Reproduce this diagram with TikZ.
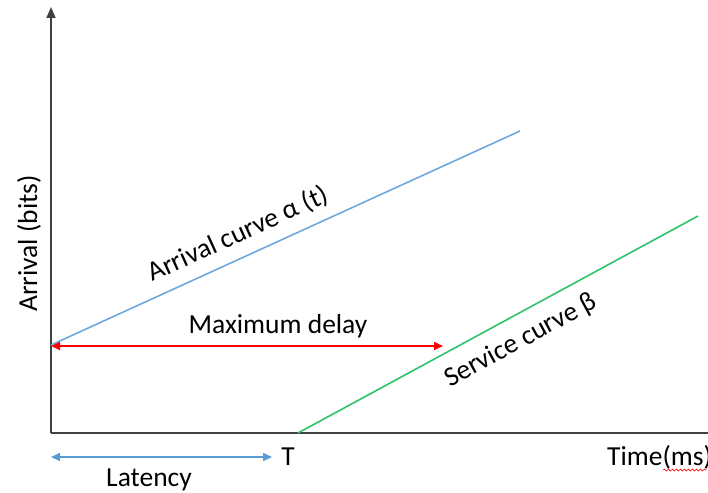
\documentclass[tikz,border=0pt]{standalone}
\usepackage{fontspec}
\setmainfont{Carlito}
\usetikzlibrary{arrows.meta,decorations.pathmorphing}
\definecolor{axisgray}{HTML}{404040}
\definecolor{arrblue}{HTML}{6FA8DC}
\definecolor{servgreen}{HTML}{2DC26B}
\definecolor{tipblue}{HTML}{5B9BD5}
\tikzset{
  axis/.style={draw=axisgray, line width=1.8pt},
  curve/.style={line width=1.6pt},
  dimarrow/.style={line width=1.6pt, {Triangle[length=9pt,width=8pt]}-{Triangle[length=9pt,width=8pt]}},
  lbl/.style={font=\fontsize{27.5}{32}\selectfont, text=black, inner sep=0pt},
}
\begin{document}
\begin{tikzpicture}[x=1pt,y=-1pt]
\useasboundingbox (0,0) rectangle (708,492);

% axes
\coordinate (O) at (51,433);
\coordinate (ytop) at (51,7);
\coordinate (xend) at (712,433);
\draw[axis, -{Triangle[length=11pt,width=9pt]}] (O) -- (ytop);
\draw[axis] (O) -- (xend);

% arrival and service curves
\coordinate (a1) at (51,345);
\coordinate (a2) at (520,131);
\coordinate (s1) at (298,433);
\coordinate (s2) at (698,216);
\draw[curve, arrblue] (a1) -- (a2);
\draw[curve, servgreen] (s1) -- (s2);

% maximum delay
\coordinate (m1) at (51,346);
\coordinate (m2) at (443,346);
\draw[dimarrow, red] (m1) -- (m2);

% latency
\coordinate (l1) at (51,457);
\coordinate (l2) at (272,457);
\draw[dimarrow, tipblue] (l1) -- (l2);

% labels
\node[lbl, anchor=base] (md) at (278,333) {Maximum delay};
\node[lbl, anchor=base] (lat) at (149,486) {Latency};
\node[lbl, anchor=base] (T) at (288,465) {T};
\node[lbl, anchor=base west] (time) at (607,465) {Time(ms)};
\draw[red, line width=0.6pt, decorate,
      decoration={snake, amplitude=1pt, segment length=4pt}]
  ([xshift=-49pt,yshift=-5pt]time.base east) -- ([xshift=-6pt,yshift=-5pt]time.base east);
\node[lbl, anchor=base, rotate=90] (yl) at (37,243.5) {Arrival (bits)};
\node[lbl, rotate=24.5] (al) at (238,234) {Arrival curve α (t)};
\node[lbl, rotate=28.5] (sl) at (521,341) {Service curve β};
\end{tikzpicture}
\end{document}
